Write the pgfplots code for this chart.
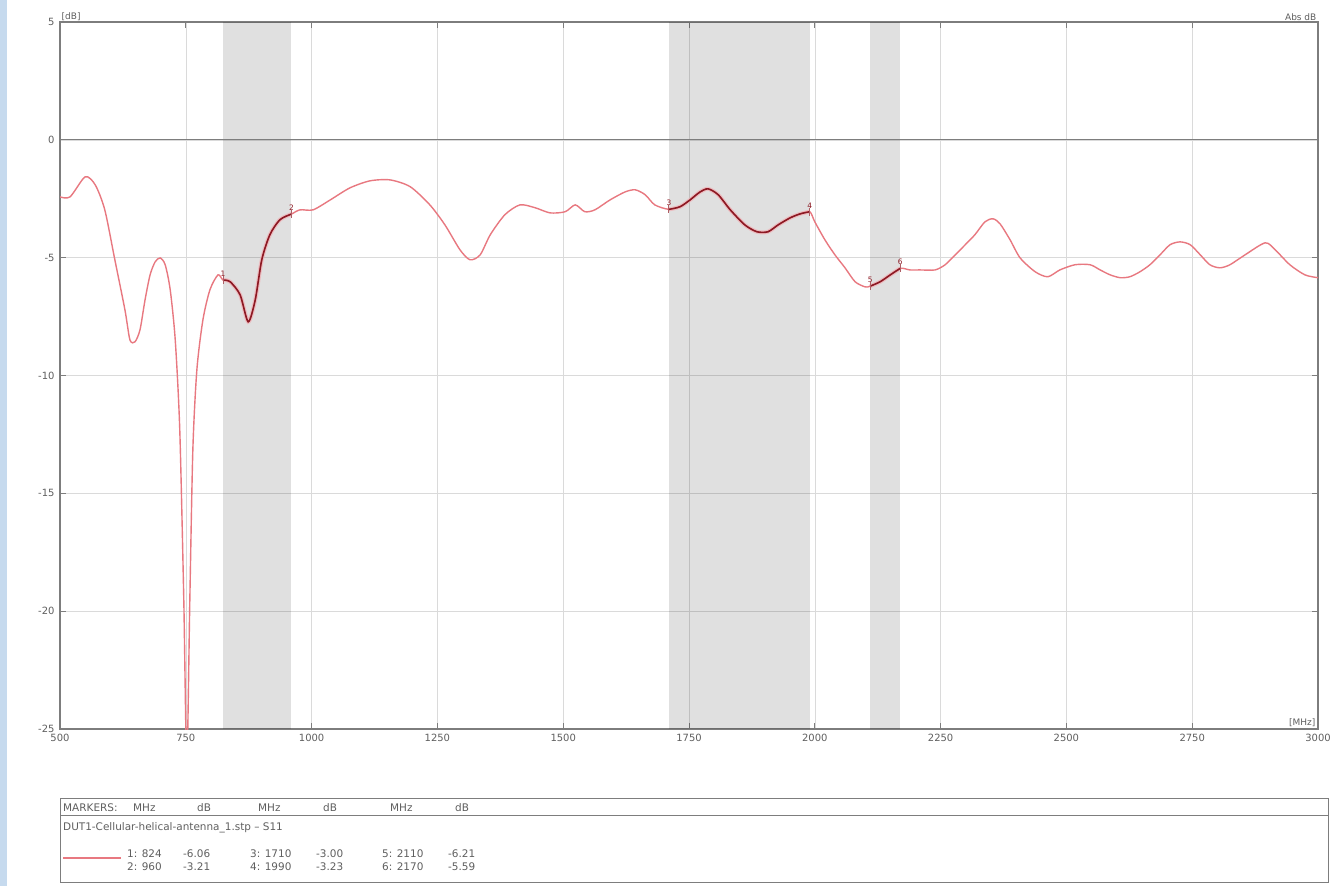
\documentclass[border=0pt]{standalone}
\usepackage{pgfplots}
\pgfplotsset{compat=1.18}
\usepackage{pgfplotstable}
\usepackage{fontspec}
\setmainfont{DejaVu Sans}
\definecolor{trace}{RGB}{232,120,128}
\definecolor{tracedark}{RGB}{140,25,35}
\definecolor{axisgray}{RGB}{125,125,125}
\definecolor{gridgray}{RGB}{218,218,218}
\definecolor{txt}{RGB}{95,95,95}
\definecolor{strip}{RGB}{198,218,238}

\pgfplotstableread{
f db
500 -2.42
520 -2.42
550 -1.57
570 -1.91
589 -2.97
609 -5.09
629 -7.21
639 -8.49
649 -8.57
659 -8.06
669 -6.79
679 -5.73
689 -5.18
699 -5.01
709 -5.30
719 -6.36
729 -8.49
738 -12.30
746 -19.52
752 -26.5
758 -19.52
764 -13.15
772 -9.76
784 -7.64
798 -6.36
814 -5.73
824 -5.95
838 -6.02
858 -6.58
874 -7.72
888 -6.79
901 -5.09
917 -4.03
937 -3.39
960 -3.15
977 -2.97
1003 -2.97
1037 -2.55
1076 -2.04
1116 -1.74
1156 -1.70
1196 -1.99
1235 -2.76
1265 -3.61
1295 -4.67
1315 -5.09
1335 -4.88
1355 -4.03
1384 -3.18
1414 -2.76
1444 -2.88
1474 -3.10
1504 -3.05
1524 -2.76
1543 -3.05
1563 -2.97
1593 -2.55
1623 -2.21
1643 -2.12
1663 -2.33
1682 -2.76
1710 -2.95
1732 -2.84
1752 -2.55
1772 -2.21
1788 -2.08
1808 -2.33
1832 -2.97
1861 -3.61
1885 -3.90
1907 -3.90
1927 -3.61
1951 -3.31
1971 -3.14
1990 -3.05
2000 -3.48
2020 -4.24
2040 -4.88
2060 -5.43
2080 -6.02
2100 -6.24
2110 -6.21
2130 -6.02
2150 -5.73
2170 -5.45
2189 -5.52
2209 -5.52
2239 -5.52
2259 -5.30
2279 -4.88
2299 -4.45
2318 -4.03
2338 -3.48
2354 -3.35
2368 -3.56
2388 -4.24
2408 -5.01
2438 -5.60
2463 -5.81
2487 -5.52
2517 -5.30
2547 -5.30
2567 -5.52
2587 -5.73
2607 -5.85
2626 -5.81
2646 -5.60
2666 -5.30
2686 -4.88
2706 -4.45
2726 -4.33
2746 -4.45
2766 -4.88
2785 -5.30
2805 -5.43
2825 -5.30
2855 -4.88
2895 -4.37
2915 -4.67
2944 -5.30
2974 -5.73
3000 -5.85
}\tracetab

\pgfplotstableread{
f db
824 -5.95
838 -6.02
858 -6.58
874 -7.72
888 -6.79
901 -5.09
917 -4.03
937 -3.39
960 -3.15
}\bandA

\pgfplotstableread{
f db
1710 -2.95
1732 -2.84
1752 -2.55
1772 -2.21
1788 -2.08
1808 -2.33
1832 -2.97
1861 -3.61
1885 -3.90
1907 -3.90
1927 -3.61
1951 -3.31
1971 -3.14
1990 -3.05
}\bandB

\pgfplotstableread{
f db
2110 -6.21
2130 -6.02
2150 -5.73
2170 -5.45
}\bandC

\pgfplotstableread{
f db lab
824 -5.95 1
960 -3.15 2
1710 -2.95 3
1990 -3.05 4
2110 -6.21 5
2170 -5.45 6
}\markers

\begin{document}
\begin{tikzpicture}[x=1bp,y=1bp]
\useasboundingbox (0,0) rectangle (1336,-886);
\fill[white] (0,0) rectangle (1336,-886);
\fill[strip] (0,0) rectangle (7,-886);
\begin{axis}[
  at={(60bp,-22bp)}, anchor=north west,
  scale only axis, width=1258bp, height=707bp,
  xmin=500, xmax=3000, ymin=-25, ymax=5,
  xtick={500,750,...,3000}, ytick={-25,-20,...,5},
  grid=major, grid style={gridgray, line width=0.6pt},
  axis line style={axisgray, line width=1.3pt},
  tick align=inside, major tick length=6bp,
  tick style={axisgray, line width=0.8pt},
  /pgf/number format/assume math mode=true,
  /pgf/number format/1000 sep={},
  xticklabel style={font=\fontsize{10}{11}\selectfont, text=txt, yshift=-2bp},
  yticklabel style={font=\fontsize{10}{11}\selectfont, text=txt, xshift=-2bp},
  clip mode=individual,
]
\addplot[draw=none, fill=black, fill opacity=0.12] coordinates {(824,-25) (824,5) (960,5) (960,-25)} -- cycle;
\addplot[draw=none, fill=black, fill opacity=0.12] coordinates {(1710,-25) (1710,5) (1990,5) (1990,-25)} -- cycle;
\addplot[draw=none, fill=black, fill opacity=0.12] coordinates {(2110,-25) (2110,5) (2170,5) (2170,-25)} -- cycle;
\addplot[axisgray, line width=1.3pt] coordinates {(500,0) (3000,0)};
\addplot[trace, line width=1.4pt, smooth, tension=0.45] table[x=f, y=db] {\tracetab};
\addplot[trace!60, line width=4pt, smooth, tension=0.45, opacity=0.7] table[x=f, y=db] {\bandA};
\addplot[trace!60, line width=4pt, smooth, tension=0.45, opacity=0.7] table[x=f, y=db] {\bandB};
\addplot[trace!60, line width=4pt, smooth, tension=0.45, opacity=0.7] table[x=f, y=db] {\bandC};
\addplot[tracedark, line width=1.6pt, smooth, tension=0.45] table[x=f, y=db] {\bandA};
\addplot[tracedark, line width=1.6pt, smooth, tension=0.45] table[x=f, y=db] {\bandB};
\addplot[tracedark, line width=1.6pt, smooth, tension=0.45] table[x=f, y=db] {\bandC};
\addplot[only marks, mark=|, mark size=4bp, mark options={tracedark!70, line width=0.8pt},
  nodes near coords, point meta=explicit symbolic,
  every node near coord/.style={font=\fontsize{7.5}{8}\selectfont, text=tracedark, anchor=south, inner sep=1bp, yshift=2bp}]
  table[x=f, y=db, meta=lab] {\markers};
\node[anchor=south west, font=\fontsize{9}{10}\selectfont, text=txt, inner sep=1.5bp] at (rel axis cs:0,1) {[dB]};
\node[anchor=south east, font=\fontsize{9}{10}\selectfont, text=txt, inner sep=1.5bp] at (rel axis cs:1,1) {Abs dB};
\node[anchor=south east, font=\fontsize{9}{10}\selectfont, text=txt, inner sep=2.5bp] at (rel axis cs:1,0) {[MHz]};
\end{axis}
% marker table
\draw[axisgray, line width=0.8pt] (60,-798) rectangle (1328,-882);
\draw[axisgray, line width=0.6pt] (60,-815) -- (1328,-815);
\begin{scope}[every node/.style={anchor=base west, inner sep=0pt, font=\fontsize{10.5}{11}\selectfont, text=txt}]
\node at (63,-811) {MARKERS:};
\node at (133,-811) {MHz};
\node at (197,-811) {dB};
\node at (258,-811) {MHz};
\node at (323,-811) {dB};
\node at (390,-811) {MHz};
\node at (455,-811) {dB};
\node at (63,-830) {DUT1-Cellular-helical-antenna\_1.stp -- S11};
\node at (127,-857) {1: 824};
\node at (183,-857) {-6.06};
\node at (250,-857) {3: 1710};
\node at (316,-857) {-3.00};
\node at (382,-857) {5: 2110};
\node at (448,-857) {-6.21};
\node at (127,-870) {2: 960};
\node at (183,-870) {-3.21};
\node at (250,-870) {4: 1990};
\node at (316,-870) {-3.23};
\node at (382,-870) {6: 2170};
\node at (448,-870) {-5.59};
\end{scope}
\draw[trace, line width=1.5pt] (63,-858) -- (121,-858);
\end{tikzpicture}
\end{document}
